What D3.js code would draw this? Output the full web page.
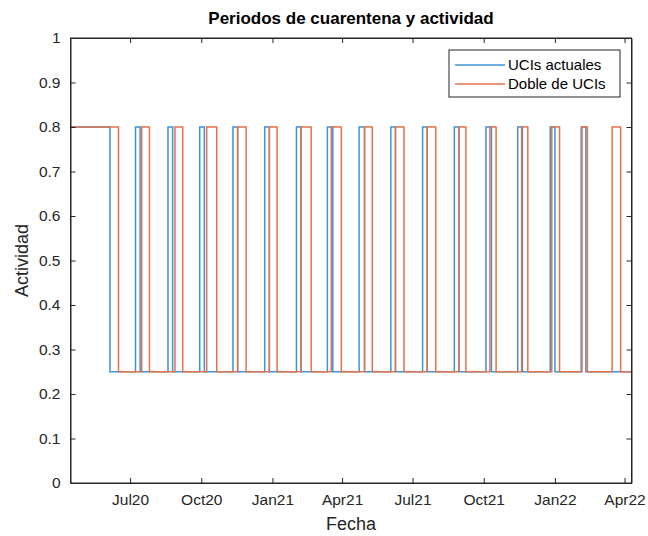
<!DOCTYPE html>
<html>
<head>
<meta charset="utf-8">
<script src="https://cdn.jsdelivr.net/npm/d3@7"></script>
<style>
  body { margin: 0; background: #fff; }
  svg { font-family: Arial, "Liberation Sans", Helvetica, sans-serif; }
</style>
</head>
<body>
<svg id="chart"></svg>
<script>
// switch dates and activity levels
const blueDates = ["2020-04-15","2020-06-05","2020-07-08","2020-07-14","2020-08-19","2020-08-25",
  "2020-09-29","2020-10-05","2020-11-11","2020-11-17","2020-12-22","2020-12-28",
  "2021-02-01","2021-02-07","2021-03-13","2021-03-20","2021-04-23","2021-04-30",
  "2021-06-03","2021-06-09","2021-07-14","2021-07-20","2021-08-24","2021-08-30",
  "2021-10-04","2021-10-11","2021-11-14","2021-11-20","2021-12-26","2022-01-01",
  "2022-02-04","2022-02-10","2022-04-10"];
const blueValues = [0.8,0.25,0.8,0.25,0.8,0.25,0.8,0.25,0.8,0.25,0.8,0.25,0.8,0.25,0.8,0.25,
  0.8,0.25,0.8,0.25,0.8,0.25,0.8,0.25,0.8,0.25,0.8,0.25,0.8,0.25,0.8,0.25,0.25];

const orangeDates = ["2020-04-15","2020-06-16","2020-07-16","2020-07-26","2020-08-28","2020-09-07",
  "2020-10-08","2020-10-21","2020-11-17","2020-11-28","2020-12-28","2021-01-07",
  "2021-02-07","2021-02-20","2021-03-18","2021-03-31","2021-04-30","2021-05-10",
  "2021-06-09","2021-06-20","2021-07-20","2021-07-31","2021-08-30","2021-09-08",
  "2021-10-09","2021-10-17","2021-11-19","2021-11-27","2021-12-28","2022-01-07",
  "2022-02-05","2022-02-12","2022-03-16","2022-03-27","2022-04-10"];
const orangeValues = [0.8,0.25,0.8,0.25,0.8,0.25,0.8,0.25,0.8,0.25,0.8,0.25,0.8,0.25,0.8,0.25,
  0.8,0.25,0.8,0.25,0.8,0.25,0.8,0.25,0.8,0.25,0.8,0.25,0.8,0.25,0.8,0.25,0.8,0.25,0.25];

const seriesNames = ["UCIs actuales", "Doble de UCIs"];
const seriesColors = ["#3a95d6", "#e4724a"];
const xTickDates = ["2020-07-01","2020-10-01","2021-01-01","2021-04-01","2021-07-01","2021-10-01","2022-01-01","2022-04-01"];
const xTickLabels = ["Jul20","Oct20","Jan21","Apr21","Jul21","Oct21","Jan22","Apr22"];
const yTicks = [0,0.1,0.2,0.3,0.4,0.5,0.6,0.7,0.8,0.9,1];

const width = 648, height = 536;
const margin = {top: 38, right: 16.5, bottom: 53, left: 70.5};
const innerW = width - margin.left - margin.right;
const innerH = height - margin.top - margin.bottom;
const parse = d3.timeParse("%Y-%m-%d");

const svg = d3.select("#chart").attr("width", width).attr("height", height);
const g = svg.append("g").attr("transform", `translate(${margin.left},${margin.top})`);

const x = d3.scaleTime()
  .domain([parse("2020-04-15"), parse("2022-04-10")])
  .range([0, innerW]);
const y = d3.scaleLinear().domain([0, 1]).range([innerH, 0]);

const series = [
  blueDates.map((d, i) => ({date: parse(d), value: blueValues[i]})),
  orangeDates.map((d, i) => ({date: parse(d), value: orangeValues[i]}))
];

const line = d3.line()
  .x(d => x(d.date))
  .y(d => y(d.value))
  .curve(d3.curveStepAfter);

g.selectAll("path.series")
  .data(series)
  .enter()
  .append("path")
  .attr("class", "series")
  .attr("d", line)
  .attr("fill", "none")
  .attr("stroke", (d, i) => seriesColors[i])
  .attr("stroke-width", 1.5);

// axes, MATLAB style: ticks inside, box around
const tickColor = "#262626";
const xAxis = d3.axisBottom(x)
  .tickValues(xTickDates.map(parse))
  .tickFormat((d, i) => xTickLabels[i])
  .tickSizeInner(-5).tickSizeOuter(0).tickPadding(11);
const yAxis = d3.axisLeft(y)
  .tickValues(yTicks)
  .tickFormat(d3.format("~g"))
  .tickSizeInner(-5).tickSizeOuter(0).tickPadding(10);

g.append("g").attr("transform", `translate(0,${innerH})`).call(xAxis);
g.append("g").call(yAxis);
g.append("g").call(d3.axisTop(x).tickValues(xTickDates.map(parse)).tickFormat("").tickSizeInner(-5).tickSizeOuter(0));
g.append("g").attr("transform", `translate(${innerW},0)`)
  .call(d3.axisRight(y).tickValues(yTicks).tickFormat("").tickSizeInner(-5).tickSizeOuter(0));

g.selectAll(".domain").attr("stroke", tickColor);
g.selectAll(".tick line").attr("stroke", tickColor);
g.selectAll(".tick text").attr("fill", tickColor).attr("font-size", 15.5);
g.append("rect").attr("width", innerW).attr("height", innerH)
  .attr("fill", "none").attr("stroke", tickColor).attr("stroke-width", 1);

// title and axis labels
svg.append("text").attr("x", margin.left + innerW / 2).attr("y", 24)
  .attr("text-anchor", "middle").attr("font-size", 17).attr("font-weight", "bold")
  .attr("fill", "#000").text("Periodos de cuarentena y actividad");
svg.append("text").attr("x", margin.left + innerW / 2).attr("y", 530)
  .attr("text-anchor", "middle").attr("font-size", 18).attr("fill", tickColor).text("Fecha");
svg.append("text")
  .attr("transform", `translate(28,${margin.top + innerH / 2}) rotate(-90)`)
  .attr("text-anchor", "middle").attr("font-size", 18).attr("fill", tickColor).text("Actividad");

// legend
const legend = svg.append("g").attr("transform", "translate(449,50)");
legend.append("rect").attr("width", 171).attr("height", 47)
  .attr("fill", "#fff").attr("stroke", tickColor).attr("stroke-width", 1);
seriesNames.forEach((name, i) => {
  const row = legend.append("g").attr("transform", `translate(0,${15 + i * 19})`);
  row.append("line").attr("x1", 6).attr("x2", 56).attr("y1", 0).attr("y2", 0)
    .attr("stroke", seriesColors[i]).attr("stroke-width", 1.5);
  row.append("text").attr("x", 59).attr("y", 5).attr("font-size", 15)
    .attr("fill", "#000").text(name);
});
</script>
</body>
</html>
